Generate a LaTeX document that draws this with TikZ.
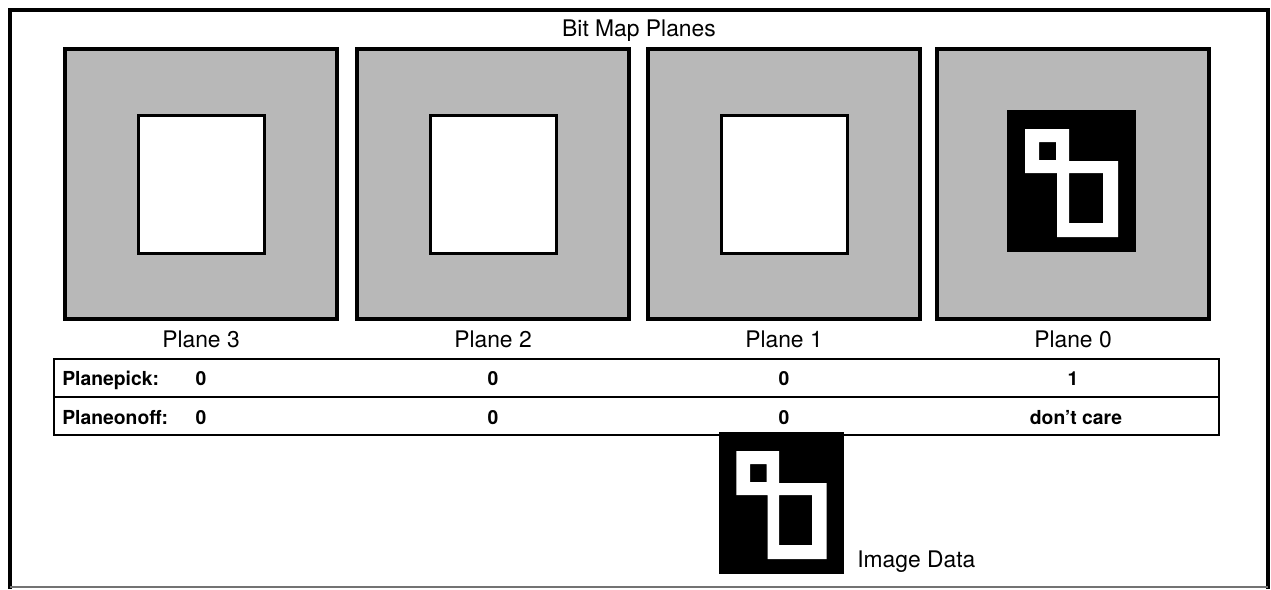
\documentclass[tikz,border=0pt]{standalone}
\usepackage{fontspec}
\setmainfont{TeX Gyre Heros}
\usepackage{tikz}

\newcommand{\bitglyph}[1]{%
    \begin{scope}[#1]
        \fill (0,0) rectangle (129,142);
        \fill[white, even odd rule] (18,19) -- (62,19) -- (62,51) -- (111,51) -- (111,127)
            -- (50,127) -- (50,63) -- (18,63) -- cycle
            (32,32) rectangle (49,50) (62,63) rectangle (96,113);
    \end{scope}}

\begin{document}
\begin{tikzpicture}[x=0.02cm, y=-0.02cm,
    plane/.style={draw, line width=0.09cm, fill=black!28},
    window/.style={draw, line width=0.06cm, fill=white},
    lbl/.style={anchor=base, inner sep=0pt, font=\fontsize{13}{15}\selectfont},
    cell/.style={anchor=base, inner sep=0pt, font=\fontsize{11}{13}\selectfont\bfseries}]
    \useasboundingbox (0,0) rectangle (1271,589);
    \draw[line width=0.07cm] (10,589) -- (10,10) -- (1268,10) -- (1268,589);
    \draw[black!55, line width=0.03cm] (10,587) -- (1268,587);
    \node[lbl] (title) at (639,36) {Bit Map Planes};
    \foreach \n/\c in {3/201, 2/493, 1/784, 0/1073} {
        \draw[plane] (\c-136,49) rectangle (\c+136,319);
        \node[lbl] (plane\n) at (\c,347) {Plane \n};
    }
    \foreach \c in {201, 493, 784}
        \draw[window] (\c-63,115) rectangle (\c+63,253);
    \bitglyph{shift={(1007,110)}}
    \draw[line width=0.05cm] (54,359) rectangle (1219,435);
    \draw[line width=0.05cm] (54,397) -- (1219,397);
    \node[cell, anchor=base west] (pick) at (62,385) {Planepick:};
    \node[cell, anchor=base west] (onoff) at (62,424) {Planeonoff:};
    \node[cell] (pick3) at (201,385) {0};
    \node[cell] (pick2) at (493,385) {0};
    \node[cell] (pick1) at (784,385) {0};
    \node[cell] (pick0) at (1073,385) {1};
    \node[cell] (onoff3) at (201,424) {0};
    \node[cell] (onoff2) at (493,424) {0};
    \node[cell] (onoff1) at (784,424) {0};
    \node[cell] (onoff0) at (1076,424) {don’t care};
    \bitglyph{shift={(719,432)}, xscale=0.97}
    \node[lbl, anchor=base west] (data) at (857,567) {Image Data};
\end{tikzpicture}
\end{document}
